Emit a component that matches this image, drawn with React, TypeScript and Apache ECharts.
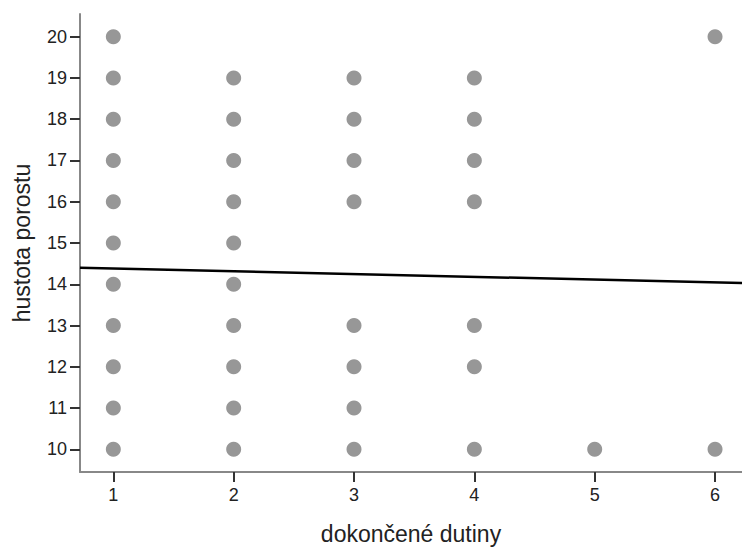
import React, { useEffect, useRef } from "react";
import * as echarts from "echarts";

// x categories (dokončené dutiny) and the observed y values (hustota porostu) at each
const xValues = [1, 2, 3, 4, 5, 6];
const yAtX1 = [10, 11, 12, 13, 14, 15, 16, 17, 18, 19, 20];
const yAtX2 = [10, 11, 12, 13, 14, 15, 16, 17, 18, 19];
const yAtX3 = [10, 11, 12, 13, 16, 17, 18, 19];
const yAtX4 = [10, 12, 13, 16, 17, 18, 19];
const yAtX5 = [10];
const yAtX6 = [10, 20];
const yByX = [yAtX1, yAtX2, yAtX3, yAtX4, yAtX5, yAtX6];

// fit line (linear regression)
const fitIntercept = 14.449;
const fitSlope = -0.0673;

// axis ticks
const xTicks = [1, 2, 3, 4, 5, 6];
const yTicks = [10, 11, 12, 13, 14, 15, 16, 17, 18, 19, 20];
const xRange = [0.723, 6.224];
const yRange = [9.45, 20.55];

const FONT = "'Liberation Sans', Arial, sans-serif";

export default function App() {
  const ref = useRef<HTMLDivElement>(null);
  useEffect(() => {
    if (!ref.current) return;
    const chart = echarts.init(ref.current, undefined, { renderer: "svg" });
    const points: number[][] = [];
    xValues.forEach((x, i) => yByX[i].forEach((y) => points.push([x, y])));
    const fit = xRange.map((x) => [x, fitIntercept + fitSlope * x]);
    chart.setOption({
      animation: false,
      backgroundColor: "#ffffff",
      grid: { left: 80, top: 14, right: 0, bottom: 71, containLabel: false },
      xAxis: {
        type: "value",
        min: xRange[0],
        max: xRange[1],
        name: "dokončené dutiny",
        nameLocation: "middle",
        nameGap: 50,
        nameTextStyle: { fontFamily: FONT, fontSize: 23, color: "#222" },
        splitLine: { show: false },
        axisLine: { show: true, onZero: false, lineStyle: { color: "#888", width: 2 } },
        axisTick: {
          show: true,
          inside: false,
          length: 10,
          customValues: xTicks,
          lineStyle: { color: "#333", width: 2 },
        },
        axisLabel: {
          customValues: xTicks,
          margin: 14,
          fontFamily: FONT,
          fontSize: 18,
          color: "#222",
        },
      },
      yAxis: {
        type: "value",
        min: yRange[0],
        max: yRange[1],
        name: "hustota porostu",
        nameLocation: "middle",
        nameGap: 47,
        nameTextStyle: { fontFamily: FONT, fontSize: 23, color: "#222" },
        splitLine: { show: false },
        axisLine: { show: true, onZero: false, lineStyle: { color: "#888", width: 2 } },
        axisTick: {
          show: true,
          inside: false,
          length: 10,
          customValues: yTicks,
          lineStyle: { color: "#333", width: 2 },
        },
        axisLabel: {
          customValues: yTicks,
          margin: 13,
          fontFamily: FONT,
          fontSize: 18,
          color: "#222",
        },
      },
      series: [
        {
          type: "scatter",
          data: points,
          symbol: "circle",
          symbolSize: 15,
          itemStyle: { color: "#979797", opacity: 1 },
          z: 2,
        },
        {
          type: "line",
          data: fit,
          showSymbol: false,
          symbol: "none",
          lineStyle: { color: "#000", width: 2.5 },
          z: 3,
        },
      ],
    });
    return () => chart.dispose();
  }, []);
  return (
    <div
      ref={ref}
      style={{ position: "fixed", left: 0, top: 0, width: 742, height: 550, background: "#fff" }}
    />
  );
}
